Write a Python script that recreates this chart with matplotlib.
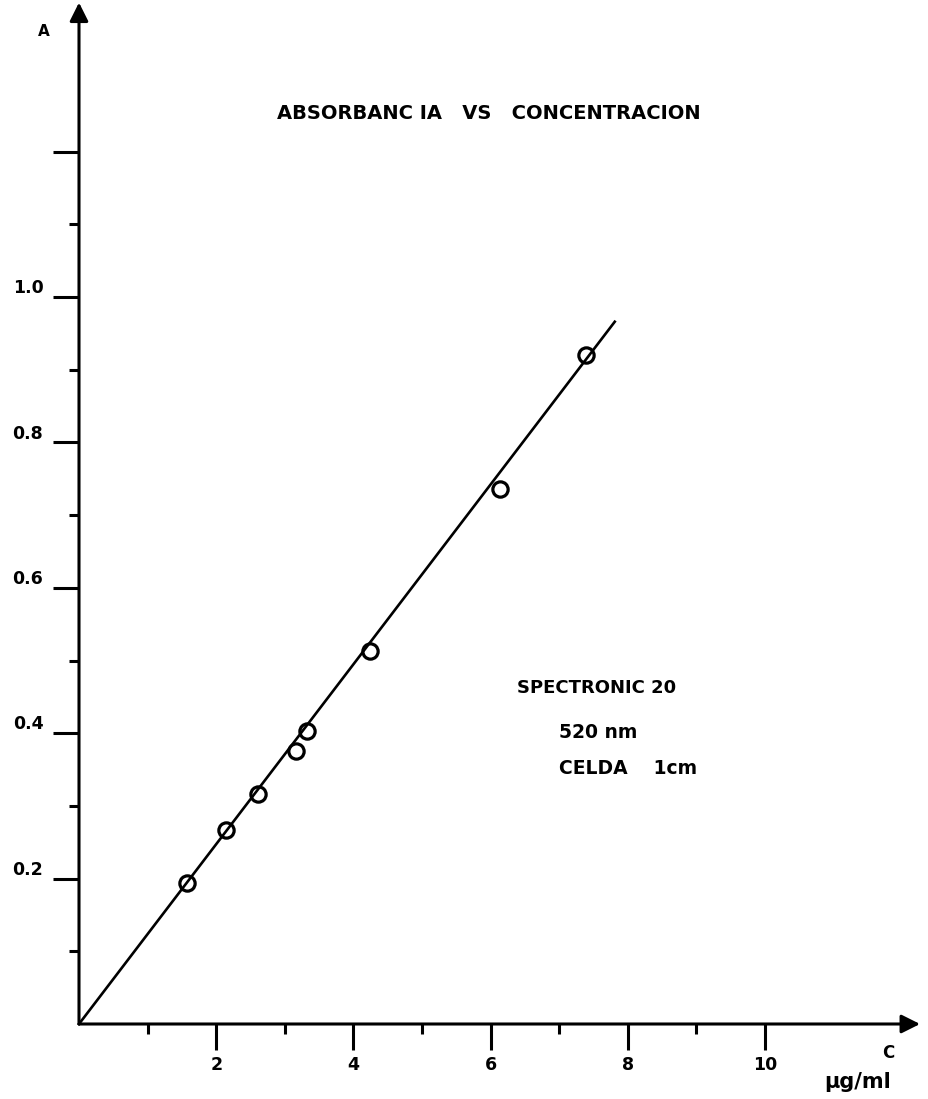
import numpy as np
import matplotlib
matplotlib.use('Agg')
import matplotlib.pyplot as plt

# datos
conc = [1.57, 2.14, 2.61, 3.16, 3.32, 4.24, 6.14, 7.39]
absorb = [0.194, 0.267, 0.316, 0.376, 0.403, 0.513, 0.736, 0.920]
fit_x = [0, 7.81]
fit_y = [0, 0.966]

x_major = [2, 4, 6, 8, 10]
x_minor = [1, 3, 5, 7, 9]
y_major = [0.2, 0.4, 0.6, 0.8, 1.0, 1.2]
y_minor = [0.1, 0.3, 0.5, 0.7, 0.9, 1.1]
y_labels = ['0.2', '0.4', '0.6', '0.8', '1.0']
x_labels = ['2', '4', '6', '8', '10']

plt.rcParams['font.family'] = ['DejaVu Sans']
plt.rcParams['font.weight'] = 'bold'

fig = plt.figure(figsize=(9.29, 10.99), dpi=100)
ax = fig.add_axes([0, 0, 1, 1])
ax.set_xlim(-79 / 68.6, (929 - 79) / 68.6)
ax.set_ylim((1024 - 1099) / 727, 1024 / 727)
ax.patch.set_alpha(0)

# ejes en el origen (las lineas se dibujan con flechas)
for s in ['top', 'right', 'left', 'bottom']:
    ax.spines[s].set_visible(False)
ax.spines['left'].set_position(('data', 0))
ax.spines['bottom'].set_position(('data', 0))

ax.set_xticks(x_major)
ax.set_xticks(x_minor, minor=True)
ax.set_yticks(y_major)
ax.set_yticks(y_minor, minor=True)
ax.tick_params(which='major', direction='out', length=19, width=2.2, labelbottom=False, labelleft=False)
ax.tick_params(which='minor', direction='out', length=7, width=2.2)

arrow = dict(arrowstyle='-|>', lw=2.2, color='black', mutation_scale=28, shrinkA=0, shrinkB=0)
ax.annotate('', xy=(0, 1.405), xytext=(0, 0), arrowprops=arrow)
ax.annotate('', xy=(12.26, 0), xytext=(0, 0), arrowprops=arrow)

# etiquetas de los ejes
for v, t in zip(y_major, y_labels):
    ax.text(-0.52, v + 0.012, t, ha='right', va='center', fontsize=12.5)
for v, t in zip(x_major, x_labels):
    ax.text(v, -0.056, t, ha='center', va='center', fontsize=12.5)

ax.text(-0.52, 1.365, 'A', ha='center', va='center', fontsize=11)
ax.text(11.79, -0.04, 'C', ha='center', va='center', fontsize=12)
ax.text(11.35, -0.08, 'μg/ml', ha='center', va='center', fontsize=15)

# recta y puntos
ax.plot(fit_x, fit_y, color='black', lw=1.9)
ax.plot(conc, absorb, 'o', mfc='none', mec='black', ms=11, mew=2.3)

ax.text(5.98, 1.253, 'ABSORBANC IA   VS   CONCENTRACION', ha='center', va='center',
        fontsize=14)

ax.text(6.38, 0.462, 'SPECTRONIC 20', ha='left', va='center', fontsize=13)
ax.text(7.0, 0.401, '520 nm', ha='left', va='center', fontsize=13.5)
ax.text(7.0, 0.352, 'CELDA    1cm', ha='left', va='center', fontsize=13.5)

fig.savefig('out.png', dpi=100)
